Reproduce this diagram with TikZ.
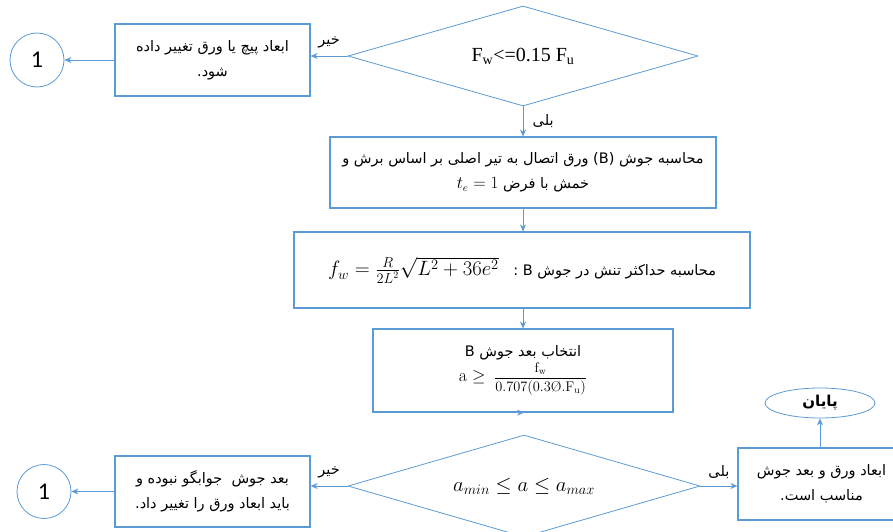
\documentclass[tikz,border=0pt]{standalone}
\usepackage{amsmath}
\usepackage{amssymb}
\usepackage{fontspec}
\usepackage{tikz}
\usetikzlibrary{arrows,arrows.meta,positioning,shapes.geometric}
\TeXXeTstate=1
\newfontfamily\arabicfont[Script=Arabic]{DejaVu Sans}
\newfontfamily\timesfont{Liberation Serif}
\newfontfamily\calibrifont{Carlito}
\definecolor{flowblue}{RGB}{91,155,213}

\begin{document}
\begin{tikzpicture}[x=1pt, y=-1pt, >={Stealth[length=7pt, width=6pt]},
	procbox/.style={draw=flowblue, line width=1.2pt, rectangle, inner sep=0pt, align=center, font=\arabicfont\fontsize{14.5}{25}\selectfont},
	decision/.style={draw=flowblue, line width=0.8pt, diamond, shape aspect=3.5, inner sep=0pt, font=\timesfont\fontsize{20}{22}\selectfont},
	linkpoint/.style={draw=flowblue, line width=0.8pt, circle, inner sep=0pt, minimum size=54pt, font=\calibrifont\fontsize{24}{26}\selectfont},
	terminal/.style={draw=flowblue, line width=0.8pt, ellipse, inner sep=0pt, minimum width=110pt, minimum height=30pt, font=\arabicfont\bfseries\fontsize{15}{18}\selectfont},
	flow/.style={->, draw=flowblue, line width=0.8pt},
	answer/.style={font=\arabicfont\fontsize{14.5}{16}\selectfont}]
	
	\useasboundingbox (0,0) rectangle (893,532);
	
	\node [decision, minimum width=350pt, minimum height=100pt] (check-1) at (523,56) {F\textsubscript{w}<=0.15 F\textsubscript{u}};
	\node [procbox, minimum width=195pt, minimum height=72pt] (change-1) at (212.5,60)
	{\beginR ابعاد پیچ یا ورق تغییر داده\endR\\ \beginR شود.\endR};
	\node [linkpoint] (link-1) at (37,60) {1};
	
	\node [procbox, minimum width=386pt, minimum height=71pt] (weld-1) at (523,172.5)
	{\beginR محاسبه جوش (B) ورق اتصال به تیر اصلی بر اساس برش و\endR\\
	 \beginR خمش با فرض \beginL{\fontsize{16}{18}\selectfont$t_e = 1$}\endL\endR};
	\node [procbox, minimum width=456pt, minimum height=76pt] (weld-2) at (522,270)
	{\beginR محاسبه حداکثر تنش در جوش B :\quad\beginL{\fontsize{20.5}{22}\selectfont$f_w = \frac{R}{2L^2}\sqrt{L^2+36e^2}$}\endL\endR};
	\node [procbox, minimum width=300pt, minimum height=83pt] (weld-3) at (523,370.5)
	{\beginR انتخاب بعد جوش B\endR\\
	 {\fontsize{18}{18}\selectfont$\mathrm{a} \geq$}\;
	 {\fontsize{14}{16}\selectfont$\dfrac{\mathrm{f_w}}{0.707(0.3\text{\rmfamily\O}.\mathrm{F_u})}$}};
	
	\node [decision, minimum width=352pt, minimum height=102pt] (check-2) at (524,486) {\fontsize{20}{22}\selectfont$a_{min} \le a \le a_{max}$};
	\node [procbox, minimum width=195pt, minimum height=71pt] (change-2) at (212.5,491.5)
	{\beginR بعد جوش\ \ جوابگو نبوده و\endR\\ \beginR باید ابعاد ورق را تغییر داد.\endR};
	\node [linkpoint] (link-2) at (44,491.5) {1};
	
	\node [procbox, minimum width=167pt, minimum height=72pt] (done) at (821.5,484)
	{\beginR ابعاد ورق و بعد جوش\endR\\ \beginR مناسب است.\endR};
	\node [terminal] (finish) at (820,403) {\beginR پایان\endR};
	
	\draw [flow] (check-1.west) -- (check-1.west -| change-1.east)
	node [answer, above, midway, yshift=4pt] {خیر};
	\draw [flow] (change-1.west) -- (link-1.east);
	\draw [flow] (check-1.south) -- (weld-1.north)
	node [answer, right, midway, xshift=6pt] {بلی};
	\draw [flow] (weld-1.south) -- (weld-1.south |- weld-2.north);
	\draw [flow] (weld-3.south |- weld-2.south) -- (weld-3.north);
	\draw [flow] (weld-3.south) -- (weld-3.south -| check-2.north);
	
	\draw [flow] (check-2.west) -- (check-2.west -| change-2.east)
	node [answer, above, midway, yshift=4pt] {خیر};
	\draw [flow] (change-2.west) -- (link-2.east);
	\draw [flow] (check-2.east) -- (check-2.east -| done.west)
	node [answer, above, midway, yshift=4pt] {بلی};
	\draw [flow] (finish.south |- done.north) -- (finish.south);
	
\end{tikzpicture}
\end{document}
